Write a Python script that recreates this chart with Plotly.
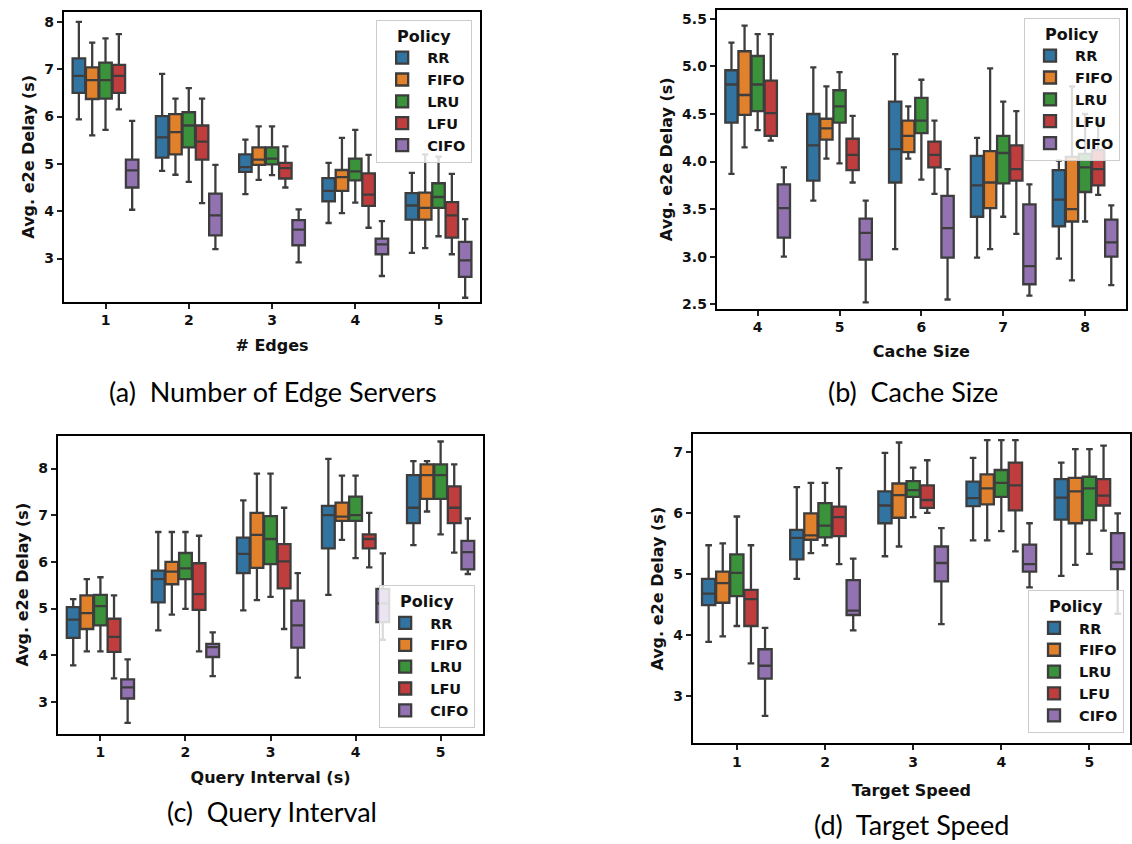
import plotly.graph_objects as go

W, H = 1132, 844

POLICIES = ["RR", "FIFO", "LRU", "LFU", "CIFO"]
COLORS = ["#3274A1", "#E1812C", "#3A923A", "#C03D3E", "#9372B2"]

# ---- (a) Number of Edge Servers ----
A_X = [1, 2, 3, 4, 5]
A_LOW = [[5.94, 4.85, 4.36, 3.75, 3.12], [5.60, 4.77, 4.66, 3.96, 3.22], [5.72, 4.62, 4.76, 4.18, 3.47],
         [6.15, 4.17, 4.50, 3.65, 3.09], [4.03, 3.20, 2.92, 2.63, 2.17]]
A_Q1 = [[6.50, 5.13, 4.83, 4.21, 3.82], [6.37, 5.20, 4.98, 4.43, 3.82], [6.38, 5.35, 4.99, 4.65, 4.07],
        [6.50, 5.09, 4.69, 4.11, 3.44], [4.50, 3.49, 3.28, 3.09, 2.61]]
A_MED = [[6.86, 5.56, 4.93, 4.43, 4.12], [6.77, 5.67, 5.09, 4.72, 4.07], [6.77, 5.81, 5.11, 4.84, 4.30],
         [6.86, 5.47, 4.91, 4.35, 3.91], [4.86, 3.91, 3.61, 3.30, 2.96]]
A_Q3 = [[7.23, 6.01, 5.20, 4.70, 4.38], [7.04, 6.05, 5.35, 4.87, 4.39], [7.14, 6.09, 5.35, 5.11, 4.59],
        [7.09, 5.81, 5.02, 4.80, 4.19], [5.09, 4.37, 3.81, 3.42, 3.35]]
A_HIGH = [[8.00, 6.90, 5.51, 5.02, 4.81], [7.56, 6.38, 5.79, 5.55, 5.20], [7.65, 6.60, 5.79, 5.72, 5.15],
          [7.74, 6.38, 5.37, 5.19, 4.79], [5.91, 4.98, 4.04, 3.79, 3.83]]

# ---- (b) Cache Size ----
B_X = [4, 5, 6, 7, 8]
B_LOW = [[3.87, 3.59, 3.08, 2.99, 2.98], [4.15, 4.03, 4.03, 3.08, 2.75], [4.33, 3.98, 3.81, 3.42, 3.37],
         [4.22, 3.78, 3.66, 3.24, 3.65], [3.00, 2.52, 2.55, 2.59, 2.70]]
B_Q1 = [[4.41, 3.80, 3.78, 3.42, 3.32], [4.49, 4.23, 4.10, 3.51, 3.37], [4.53, 4.41, 4.30, 3.77, 3.68],
        [4.27, 3.91, 3.94, 3.80, 3.75], [3.20, 2.97, 2.99, 2.71, 3.00]]
B_MED = [[4.81, 4.17, 4.13, 3.75, 3.60], [4.70, 4.35, 4.27, 3.78, 3.50], [4.81, 4.58, 4.43, 4.09, 3.94],
         [4.51, 4.07, 4.07, 3.92, 3.92], [3.51, 3.25, 3.30, 2.90, 3.15]]
B_Q3 = [[4.96, 4.50, 4.63, 4.06, 3.91], [5.16, 4.45, 4.43, 4.11, 4.05], [5.11, 4.75, 4.67, 4.27, 4.08],
        [4.85, 4.24, 4.21, 4.17, 4.12], [3.76, 3.40, 3.64, 3.55, 3.39]]
B_HIGH = [[5.25, 4.99, 5.13, 4.25, 4.01], [5.43, 4.79, 4.58, 4.98, 4.79], [5.34, 4.94, 4.86, 4.63, 4.50],
          [5.34, 4.48, 4.43, 4.53, 4.40], [3.94, 3.59, 3.92, 3.76, 3.54]]

# ---- (c) Query Interval ----
C_X = [1, 2, 3, 4, 5]
C_LOW = [[3.78, 4.53, 4.96, 5.29, 6.36], [4.08, 4.87, 5.18, 6.47, 7.08], [4.08, 4.99, 5.25, 6.08, 6.59],
         [3.50, 4.08, 4.56, 5.88, 6.20], [2.55, 3.55, 3.52, 4.33, 5.74]]
C_Q1 = [[4.37, 5.13, 5.76, 6.29, 6.83], [4.56, 5.52, 5.87, 6.88, 7.35], [4.64, 5.63, 5.95, 6.88, 7.35],
        [4.07, 4.97, 5.43, 6.29, 6.83], [3.07, 3.96, 4.16, 4.71, 5.84]]
C_MED = [[4.76, 5.63, 6.17, 7.00, 7.16], [4.90, 5.79, 6.58, 6.97, 7.86], [5.05, 5.86, 6.49, 7.00, 7.86],
         [4.39, 5.31, 6.01, 6.49, 7.16], [3.31, 4.17, 4.64, 5.11, 6.21]]
C_Q3 = [[5.03, 5.81, 6.52, 7.20, 7.86], [5.28, 6.00, 7.05, 7.27, 8.09], [5.29, 6.19, 6.98, 7.40, 8.09],
        [4.78, 5.97, 6.38, 6.59, 7.62], [3.48, 4.24, 5.17, 5.42, 6.45]]
C_HIGH = [[5.20, 6.64, 7.32, 8.21, 8.16], [5.63, 6.64, 7.89, 7.85, 8.16], [5.67, 6.64, 7.89, 7.85, 8.58],
          [5.28, 6.56, 7.16, 7.05, 8.09], [3.91, 4.49, 5.76, 6.18, 6.93]]

# ---- (d) Target Speed ----
D_X = [1, 2, 3, 4, 5]
D_LOW = [[3.89, 4.92, 5.29, 5.55, 4.97], [3.98, 5.34, 5.45, 5.55, 5.15], [4.15, 5.47, 5.93, 5.70, 5.33],
         [3.54, 5.16, 6.00, 5.37, 5.71], [2.68, 4.08, 4.18, 4.78, 4.35]]
D_Q1 = [[4.49, 5.24, 5.83, 6.11, 5.89], [4.53, 5.56, 5.92, 6.14, 5.83], [4.64, 5.60, 6.26, 6.26, 5.88],
        [4.15, 5.62, 6.08, 6.04, 6.12], [3.29, 4.33, 4.88, 5.04, 5.08]]
D_MED = [[4.68, 5.59, 6.12, 6.24, 6.25], [4.85, 5.63, 6.29, 6.40, 6.35], [5.02, 5.79, 6.37, 6.49, 6.40],
         [4.59, 5.93, 6.21, 6.45, 6.28], [3.50, 4.40, 5.18, 5.16, 5.19]]
D_Q3 = [[4.92, 5.72, 6.35, 6.51, 6.55], [5.04, 5.99, 6.48, 6.63, 6.57], [5.32, 6.16, 6.52, 6.70, 6.59],
        [4.74, 6.10, 6.45, 6.82, 6.55], [3.77, 4.90, 5.45, 5.48, 5.67]]
D_HIGH = [[5.47, 6.42, 6.98, 6.90, 6.82], [5.50, 6.49, 7.15, 7.19, 7.04], [5.94, 6.49, 6.74, 7.19, 7.04],
          [5.47, 6.73, 6.86, 7.19, 7.10], [4.12, 5.25, 5.75, 5.83, 5.99]]

X_TITLES = ["# Edges", "Cache Size", "Query Interval (s)", "Target Speed"]
Y_TITLE = "Avg. e2e Delay (s)"
CAPTIONS = ["(a)  Number of Edge Servers", "(b)  Cache Size", "(c)  Query Interval", "(d)  Target Speed"]

PANELS = [
    (A_X, A_LOW, A_Q1, A_MED, A_Q3, A_HIGH),
    (B_X, B_LOW, B_Q1, B_MED, B_Q3, B_HIGH),
    (C_X, C_LOW, C_Q1, C_MED, C_Q3, C_HIGH),
    (D_X, D_LOW, D_Q1, D_MED, D_Q3, D_HIGH),
]

# ---- layout geometry (pixels) ----
def px_x(p):
    return p / W

def px_y(p):
    return 1 - p / H

# frame [left, right, top, bottom]
FRAMES = [(64, 481, 12, 303), (718, 1128, 10, 310), (58, 484, 438, 737), (694, 1132, 436, 747)]
XRANGES = [[0.5, 5.5], [3.5, 8.5], [0.5, 5.5], [0.5, 5.46]]
YRANGES = [[2.09, 8.21], [2.455, 5.594], [2.32, 8.70], [2.23, 7.29]]
YTICKS = [[3, 4, 5, 6, 7, 8], [2.5, 3.0, 3.5, 4.0, 4.5, 5.0, 5.5], [3, 4, 5, 6, 7, 8], [3, 4, 5, 6, 7]]
YFMT = ["d", ".1f", "d", "d"]
XSTANDOFF = [12, 11, 12, 16]
LEGEND_POS = [(473, 20), (1122, 18), (476, 588), (1126, 593)]  # right, top
CAPTION_POS = [(273, 393), (915, 393), (272, 815), (913, 828)]

EDGE = "#3d3d3d"
TXT = "#111111"
BOLD = dict(family="DejaVu Sans", weight="bold", color=TXT)

fig = go.Figure()

for k, (xs, low, q1, med, q3, high) in enumerate(PANELS):
    sfx = "" if k == 0 else str(k + 1)
    for i, pol in enumerate(POLICIES):
        fig.add_trace(go.Box(
            x=xs, q1=q1[i], median=med[i], q3=q3[i],
            lowerfence=low[i], upperfence=high[i],
            name=pol, fillcolor=COLORS[i],
            line=dict(color=EDGE, width=2.3),
            whiskerwidth=0.5, boxpoints=False,
            xaxis="x" + sfx, yaxis="y" + sfx,
            legend="legend" + sfx,
            offsetgroup=str(i),
            showlegend=True,
        ))

layout = dict(
    width=W, height=H,
    margin=dict(l=0, r=0, t=0, b=0),
    paper_bgcolor="white", plot_bgcolor="white",
    boxmode="group", boxgap=0.2, boxgroupgap=0.06,
    showlegend=True,
)

annotations = []
for k in range(4):
    sfx = "" if k == 0 else str(k + 1)
    l, r, t, b = FRAMES[k]
    axis_common = dict(
        showline=True, linecolor="black", linewidth=2, mirror=True,
        ticks="outside", ticklen=5, tickwidth=1.5, tickcolor="#222222",
        showgrid=False, zeroline=False,
        tickfont=dict(size=14, **BOLD),
    )
    layout["xaxis" + sfx] = dict(
        axis_common, domain=[px_x(l), px_x(r)], range=XRANGES[k],
        anchor="y" + sfx, tickmode="array", tickvals=PANELS[k][0],
        title=dict(text=X_TITLES[k], font=dict(size=16, **BOLD), standoff=XSTANDOFF[k]),
    )
    layout["yaxis" + sfx] = dict(
        axis_common, domain=[px_y(b), px_y(t)], range=YRANGES[k],
        anchor="x" + sfx, tickmode="array", tickvals=YTICKS[k], tickformat=YFMT[k],
        title=dict(text=Y_TITLE, font=dict(size=16, **BOLD), standoff=6),
    )
    lr, lt = LEGEND_POS[k]
    layout["legend" + sfx] = dict(
        x=px_x(lr), y=px_y(lt), xanchor="right", yanchor="top",
        bgcolor="rgba(255,255,255,0.82)", bordercolor="#cccccc", borderwidth=1,
        font=dict(size=14.5, **BOLD),
        title=dict(text="Policy", font=dict(size=16, **BOLD), side="top center"),
        itemwidth=40,
    )
    cx, cy = CAPTION_POS[k]
    annotations.append(dict(
        text=CAPTIONS[k], x=px_x(cx), y=px_y(cy), xref="paper", yref="paper",
        xanchor="center", yanchor="middle", showarrow=False,
        font=dict(family="Lato", size=27, color="#000000"),
    ))

layout["annotations"] = annotations
fig.update_layout(**layout)

fig.write_html("out.html")
